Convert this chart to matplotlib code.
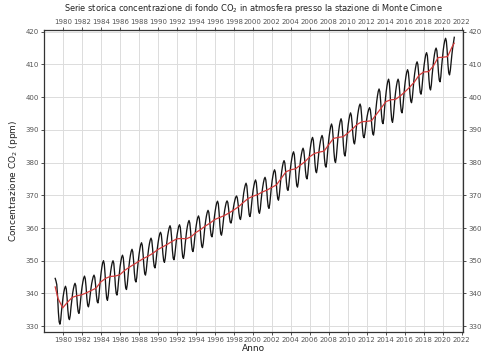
import numpy as np
import matplotlib
matplotlib.use("Agg")
import matplotlib.pyplot as plt

# Monthly background CO2 (ppm), Monte Cimone, from March 1979 to March 2021
first_year, first_month = 1979, 3
co2_monthly = [
    344.6, 343.8, 342.7, 339.2, 334.3, 331.3, 330.6, 332.0, 334.7, 337.0,  # 1979 (Mar-Dec)
    339.0, 340.5, 341.6, 342.2, 341.4, 338.6, 334.9, 332.5, 332.0, 333.3, 335.9, 338.1,  # 1980
    340.0, 341.4, 342.5, 343.1, 342.4, 339.9, 336.5, 334.4, 333.9, 335.3, 337.9, 340.2,  # 1981
    342.1, 343.6, 344.7, 345.3, 344.5, 342.0, 338.5, 336.4, 335.9, 337.1, 339.3, 341.2,  # 1982
    342.9, 344.1, 345.1, 345.6, 344.9, 342.6, 339.5, 337.5, 337.1, 338.6, 341.6, 344.2,  # 1983
    346.4, 348.1, 349.4, 350.0, 349.0, 345.8, 341.3, 338.5, 337.9, 339.4, 342.1, 344.6,  # 1984
    346.6, 348.2, 349.4, 350.0, 349.2, 346.3, 342.4, 340.0, 339.5, 341.0, 343.8, 346.2,  # 1985
    348.3, 349.9, 351.1, 351.7, 350.9, 348.0, 344.1, 341.7, 341.2, 342.7, 345.5, 348.0,  # 1986
    350.1, 351.7, 352.9, 353.5, 352.7, 350.0, 346.3, 344.0, 343.5, 344.9, 347.7, 350.1,  # 1987
    352.1, 353.7, 354.9, 355.5, 354.7, 352.0, 348.4, 346.1, 345.6, 347.0, 349.6, 351.8,  # 1988
    353.7, 355.2, 356.3, 356.9, 356.2, 353.7, 350.3, 348.3, 347.8, 349.1, 351.6, 353.8,  # 1989
    355.6, 357.1, 358.2, 358.7, 358.0, 355.5, 352.1, 350.0, 349.5, 350.8, 353.4, 355.7,  # 1990
    357.6, 359.0, 360.1, 360.7, 359.9, 357.1, 353.2, 350.8, 350.3, 351.6, 354.0, 356.2,  # 1991
    358.0, 359.4, 360.5, 361.0, 360.2, 357.4, 353.6, 351.2, 350.7, 352.1, 354.8, 357.1,  # 1992
    359.1, 360.6, 361.7, 362.3, 361.5, 359.0, 355.5, 353.3, 352.8, 354.1, 356.6, 358.8,  # 1993
    360.6, 362.1, 363.2, 363.7, 362.9, 360.3, 356.7, 354.5, 354.0, 355.4, 358.0, 360.3,  # 1994
    362.2, 363.7, 364.8, 365.4, 364.8, 362.6, 359.6, 357.7, 357.3, 358.6, 361.1, 363.3,  # 1995
    365.1, 366.6, 367.7, 368.2, 367.4, 364.6, 360.7, 358.3, 357.8, 359.1, 361.5, 363.6,  # 1996
    365.4, 366.7, 367.8, 368.3, 367.8, 365.9, 363.4, 361.8, 361.5, 362.5, 364.4, 366.1,  # 1997
    367.5, 368.6, 369.4, 369.8, 369.2, 367.3, 364.6, 363.0, 362.6, 363.9, 366.5, 368.7,  # 1998
    370.6, 372.0, 373.1, 373.7, 372.9, 370.1, 366.4, 364.0, 363.5, 364.8, 367.4, 369.7,  # 1999
    371.6, 373.0, 374.1, 374.7, 373.9, 371.1, 367.4, 365.0, 364.5, 365.8, 368.4, 370.6,  # 2000
    372.4, 373.9, 375.0, 375.5, 374.7, 372.2, 368.7, 366.5, 366.0, 367.4, 370.1, 372.5,  # 2001
    374.5, 376.0, 377.2, 377.8, 377.1, 374.5, 371.1, 369.0, 368.5, 370.0, 372.7, 375.2,  # 2002
    377.2, 378.8, 380.0, 380.6, 379.9, 377.4, 374.0, 371.9, 371.5, 372.9, 375.6, 378.0,  # 2003
    380.0, 381.5, 382.7, 383.3, 382.4, 379.5, 375.5, 373.0, 372.5, 373.9, 376.7, 379.0,  # 2004
    381.1, 382.6, 383.8, 384.4, 383.6, 381.1, 377.6, 375.5, 375.0, 376.5, 379.4, 382.0,  # 2005
    384.1, 385.8, 387.1, 387.7, 386.8, 383.9, 379.9, 377.4, 376.9, 378.3, 380.9, 383.2,  # 2006
    385.1, 386.6, 387.7, 388.3, 387.5, 384.9, 381.3, 379.1, 378.6, 380.2, 383.2, 385.9,  # 2007
    388.1, 389.8, 391.1, 391.8, 390.9, 387.7, 383.3, 380.6, 380.0, 381.6, 384.7, 387.4,  # 2008
    389.6, 391.4, 392.7, 393.4, 392.5, 389.4, 385.2, 382.6, 382.0, 383.6, 386.6, 389.3,  # 2009
    391.5, 393.2, 394.5, 395.2, 394.4, 391.9, 388.4, 386.2, 385.7, 387.2, 390.0, 392.4,  # 2010
    394.5, 396.1, 397.3, 397.9, 397.1, 394.3, 390.5, 388.1, 387.6, 388.7, 390.8, 392.7,  # 2011
    394.2, 395.4, 396.3, 396.8, 396.1, 393.9, 390.8, 388.8, 388.4, 390.1, 393.3, 396.2,  # 2012
    398.6, 400.4, 401.8, 402.5, 401.7, 398.8, 394.9, 392.4, 391.9, 393.5, 396.7, 399.4,  # 2013
    401.7, 403.5, 404.8, 405.5, 404.4, 400.9, 396.0, 393.0, 392.3, 393.9, 396.9, 399.6,  # 2014
    401.8, 403.5, 404.8, 405.5, 404.7, 401.9, 398.1, 395.7, 395.2, 396.8, 399.8, 402.5,  # 2015
    404.7, 406.4, 407.7, 408.4, 407.6, 404.9, 401.1, 398.8, 398.3, 399.8, 402.7, 405.2,  # 2016
    407.3, 408.9, 410.2, 410.8, 410.0, 407.3, 403.7, 401.4, 400.9, 402.4, 405.3, 407.9,  # 2017
    410.0, 411.7, 413.0, 413.6, 412.7, 409.6, 405.4, 402.8, 402.2, 403.7, 406.7, 409.2,  # 2018
    411.4, 413.1, 414.4, 415.0, 414.2, 411.4, 407.6, 405.2, 404.7, 406.3, 409.4, 412.0,  # 2019
    414.3, 416.0, 417.3, 418.0, 417.1, 414.1, 409.9, 407.4, 406.8, 408.2, 410.8, 413.1,  # 2020
    415.1, 416.8, 418.3,  # 2021 (Jan-Mar)
]

# Deseasonalised trend (ppm) at decimal years
trend_years = [
    1979.21, 1979.5, 1980.0, 1980.5, 1981.0, 1981.5, 1982.0, 1982.5, 1983.0, 1983.5,
    1984.0, 1984.5, 1985.0, 1985.5, 1986.0, 1986.5, 1987.0, 1987.5, 1988.0, 1988.5,
    1989.0, 1989.5, 1990.0, 1990.5, 1991.0, 1991.5, 1992.0, 1992.5, 1993.0, 1993.5,
    1994.0, 1994.5, 1995.0, 1995.5, 1996.0, 1996.5, 1997.0, 1997.5, 1998.0, 1998.5,
    1999.0, 1999.5, 2000.0, 2000.5, 2001.0, 2001.5, 2002.0, 2002.5, 2003.0, 2003.5,
    2004.0, 2004.5, 2005.0, 2005.5, 2006.0, 2006.5, 2007.0, 2007.5, 2008.0, 2008.5,
    2009.0, 2009.5, 2010.0, 2010.5, 2011.0, 2011.5, 2012.0, 2012.5, 2013.0, 2013.5,
    2014.0, 2014.5, 2015.0, 2015.5, 2016.0, 2016.5, 2017.0, 2017.5, 2018.0, 2018.5,
    2019.0, 2019.5, 2020.0, 2020.5, 2021.0, 2021.2,
]
trend_ppm = [
    342.0, 338.5, 335.6, 337.3, 338.8, 339.3, 339.6, 340.2, 340.9, 341.6,
    343.5, 344.6, 345.2, 345.3, 345.7, 347.0, 348.0, 348.9, 349.8, 350.7,
    351.4, 352.3, 353.4, 354.2, 355.0, 355.9, 356.7, 356.8, 356.7, 357.3,
    358.6, 359.5, 360.6, 361.5, 362.6, 363.2, 363.8, 364.6, 365.5, 366.5,
    367.8, 369.0, 369.7, 370.2, 371.0, 371.6, 372.4, 373.2, 375.2, 377.2,
    377.8, 378.1, 379.2, 380.3, 381.8, 382.8, 383.2, 383.5, 385.5, 387.4,
    387.7, 387.9, 389.0, 390.3, 391.7, 392.5, 392.6, 392.8, 394.7, 396.6,
    398.6, 399.2, 399.3, 400.3, 401.6, 403.0, 404.6, 406.7, 407.7, 407.8,
    409.5, 412.1, 412.2, 412.4, 415.5, 416.5,
]

year_ticks = list(range(1980, 2023, 2))
ppm_ticks = list(range(330, 421, 10))

# decimal-year position of each monthly value (mid-month)
n = len(co2_monthly)
month_index = np.arange(n) + (first_month - 1)
dates = first_year + (month_index + 0.5) / 12.0

fig = plt.figure(figsize=(4.84, 3.54), dpi=100)
ax = fig.add_axes([0.0915, 0.062, 0.866, 0.853])

ax.plot(dates, co2_monthly, color="#151515", lw=0.95, zorder=3)
ax.plot(trend_years, trend_ppm, color="#d33a3a", lw=0.9, zorder=4)

ax.set_xlim(1978.06, 2022.17)
ax.set_ylim(328.2, 420.5)
ax.set_xticks(year_ticks)
ax.set_yticks(ppm_ticks)
ax.grid(True, color="#dcdcdc", lw=0.7, zorder=0)
ax.set_axisbelow(True)

ax.tick_params(axis="both", which="both", direction="out", length=2.5, width=0.6,
               labelsize=5, colors="#333333", labelcolor="#555555", pad=1.2,
               top=True, labeltop=True, right=True, labelright=True)
for sp in ax.spines.values():
    sp.set_color("#333333")
    sp.set_linewidth(0.9)

ax.set_xlabel("Anno", fontsize=6.5, color="#222222")
ax.xaxis.set_label_coords(0.5, -0.040)
ax.set_ylabel("Concentrazione CO$_2$ (ppm)", fontsize=6.5, color="#222222")
ax.yaxis.set_label_coords(-0.057, 0.5)

fig.text(0.524, 0.977,
         "Serie storica concentrazione di fondo CO$_2$ in atmosfera presso la stazione di Monte Cimone",
         ha="center", va="center", fontsize=5.95, color="#222222")

fig.savefig("out.png", dpi=100)
